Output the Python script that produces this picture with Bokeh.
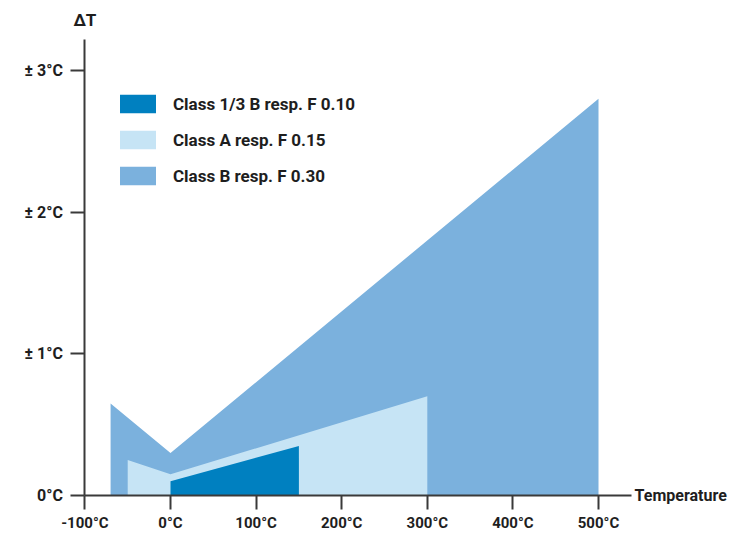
from bokeh.plotting import figure
from bokeh.models import FixedTicker, Legend, LegendItem, Label, Range1d
from bokeh.embed import file_html
from bokeh.resources import INLINE

# ---- data ----
class_b_temp = [-70, 0, 500]
class_b_tol = [0.65, 0.3, 2.8]
class_a_temp = [-50, 0, 300]
class_a_tol = [0.25, 0.15, 0.7]
class_13b_temp = [0, 150]
class_13b_tol = [0.1, 0.35]

series_names = ["Class 1/3 B resp. F 0.10", "Class A resp. F 0.15", "Class B resp. F 0.30"]

x_ticks = [-100, 0, 100, 200, 300, 400, 500]
x_tick_labels = ["-100°C", "0°C", "100°C", "200°C", "300°C", "400°C", "500°C"]
y_ticks = [0, 1, 2, 3]
y_tick_labels = ["0°C", "± 1°C", "± 2°C", "± 3°C"]

x_axis_end = 538.6
y_axis_end = 3.22

FONT = "Roboto"
AXIS_COLOR = "#3a3a3a"
TEXT_COLOR = "#1e1e1e"
C_13B = "#0080c0"
C_A = "#c6e4f5"
C_B = "#7bb1dd"

W, H = 730, 531
p = figure(width=W, height=H, output_backend="svg", toolbar_location=None,
           x_range=Range1d(-198.6, 654.2), y_range=Range1d(-0.254, 3.4933),
           min_border=0)
p.outline_line_color = None
p.xgrid.visible = False
p.ygrid.visible = False
p.background_fill_color = "white"
p.border_fill_color = "white"

rb = p.varea(x=class_b_temp, y1=[0] * len(class_b_temp), y2=class_b_tol, fill_color=C_B)
ra = p.varea(x=class_a_temp, y1=[0] * len(class_a_temp), y2=class_a_tol, fill_color=C_A)
r13 = p.varea(x=class_13b_temp, y1=[0] * len(class_13b_temp), y2=class_13b_tol, fill_color=C_13B)

xa = p.xaxis[0]
ya = p.yaxis[0]
xa.fixed_location = 0
ya.fixed_location = -100
xa.bounds = (-100, x_axis_end)
ya.bounds = (0, y_axis_end)

for ax, ticks, labels in ((xa, x_ticks, x_tick_labels), (ya, y_ticks, y_tick_labels)):
    ax.ticker = FixedTicker(ticks=ticks)
    ax.major_label_overrides = {t: l for t, l in zip(ticks, labels)}
    ax.minor_tick_line_color = None
    ax.major_tick_in = 0
    ax.major_tick_out = 14
    ax.major_tick_line_width = 2
    ax.major_tick_line_color = AXIS_COLOR
    ax.axis_line_width = 2
    ax.axis_line_color = AXIS_COLOR
    ax.major_label_text_font = FONT
    ax.major_label_text_font_style = "bold"
    ax.major_label_text_font_size = "16px"
    ax.major_label_text_color = TEXT_COLOR
xa.major_label_text_font_size = "15px"
xa.major_label_standoff = 4
ya.major_label_standoff = 8

legend = Legend(items=[LegendItem(label=series_names[0], renderers=[r13]),
                       LegendItem(label=series_names[1], renderers=[ra]),
                       LegendItem(label=series_names[2], renderers=[rb])],
                location=(115, 344), padding=0, margin=0, spacing=13,
                glyph_width=45, glyph_height=23, label_height=23, label_standoff=13,
                border_line_alpha=0, background_fill_alpha=0,
                label_text_font=FONT, label_text_font_style="bold",
                label_text_font_size="17px", label_text_color=TEXT_COLOR,
                label_text_baseline="middle")
p.add_layout(legend)

p.add_layout(Label(x=-100, y=y_axis_end, y_offset=9, text="ΔT", text_align="center",
                   text_baseline="bottom", text_font=FONT, text_font_style="bold",
                   text_font_size="17px", text_color=TEXT_COLOR))
p.add_layout(Label(x=x_axis_end, y=0, x_offset=3, text="Temperature", text_align="left",
                   text_baseline="middle", text_font=FONT, text_font_style="bold",
                   text_font_size="16px", text_color=TEXT_COLOR))

open("out.html", "w").write(file_html(p, INLINE))
